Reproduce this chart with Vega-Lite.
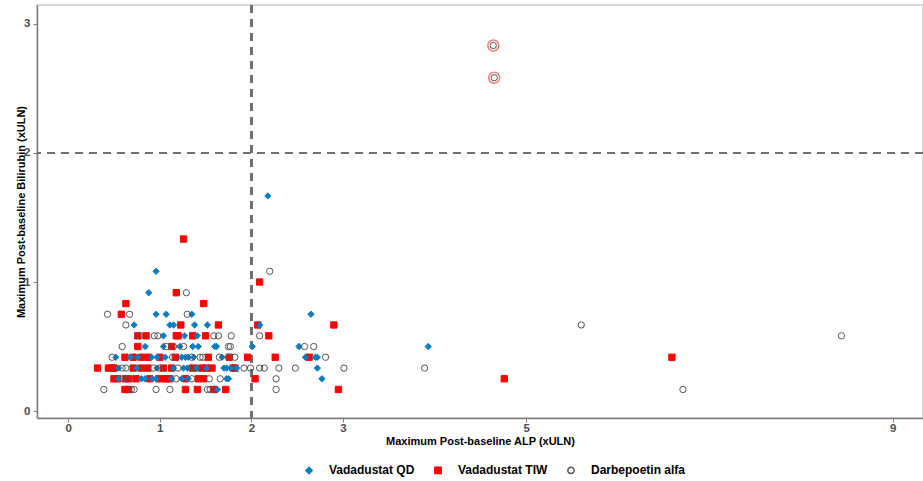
{
  "$schema": "https://vega.github.io/schema/vega-lite/v6.json",
  "autosize": {"type": "none"},
  "padding": {"left": 37, "top": 5, "right": 0, "bottom": 63},
  "width": 886,
  "height": 413,
  "background": "white",
  "config": {
    "font": "Liberation Sans",
    "view": {"stroke": "#cccccc", "strokeWidth": 1.5},
    "axis": {
      "gridColor": "#ebebeb", "gridWidth": 1,
      "domainColor": "#7f7f7f", "domainWidth": 1.5,
      "tickColor": "#7f7f7f", "tickSize": 4,
      "labelFont": "Liberation Sans", "labelFontSize": 11.5, "labelFontWeight": "bold", "labelColor": "#4d4d4d",
      "titleFont": "Liberation Sans", "titleFontSize": 11, "titleFontWeight": "bold", "titleColor": "#000000"
    },
    "legend": {
      "labelFont": "Liberation Sans", "labelFontSize": 12, "labelFontWeight": "bold", "labelColor": "#000000"
    }
  },
  "datasets": {
    "pts": [
      {"alp":0.62,"bili":0.167,"arm":"Vadadustat TIW"},{"alp":0.66,"bili":0.167,"arm":"Vadadustat TIW"},{"alp":1.28,"bili":0.167,"arm":"Vadadustat TIW"},{"alp":1.41,"bili":0.167,"arm":"Vadadustat TIW"},{"alp":1.59,"bili":0.167,"arm":"Vadadustat TIW"},{"alp":1.72,"bili":0.167,"arm":"Vadadustat TIW"},{"alp":2.95,"bili":0.167,"arm":"Vadadustat TIW"},
      {"alp":0.50,"bili":0.25,"arm":"Vadadustat TIW"},{"alp":0.54,"bili":0.25,"arm":"Vadadustat TIW"},{"alp":0.63,"bili":0.25,"arm":"Vadadustat TIW"},{"alp":0.66,"bili":0.25,"arm":"Vadadustat TIW"},{"alp":0.74,"bili":0.25,"arm":"Vadadustat TIW"},{"alp":0.89,"bili":0.25,"arm":"Vadadustat TIW"},{"alp":0.99,"bili":0.25,"arm":"Vadadustat TIW"},{"alp":1.05,"bili":0.25,"arm":"Vadadustat TIW"},{"alp":1.08,"bili":0.25,"arm":"Vadadustat TIW"},{"alp":1.11,"bili":0.25,"arm":"Vadadustat TIW"},{"alp":1.28,"bili":0.25,"arm":"Vadadustat TIW"},{"alp":1.42,"bili":0.25,"arm":"Vadadustat TIW"},{"alp":1.48,"bili":0.25,"arm":"Vadadustat TIW"},{"alp":2.04,"bili":0.25,"arm":"Vadadustat TIW"},{"alp":4.76,"bili":0.25,"arm":"Vadadustat TIW"},
      {"alp":0.32,"bili":0.333,"arm":"Vadadustat TIW"},{"alp":0.44,"bili":0.333,"arm":"Vadadustat TIW"},{"alp":0.48,"bili":0.333,"arm":"Vadadustat TIW"},{"alp":0.50,"bili":0.333,"arm":"Vadadustat TIW"},{"alp":0.71,"bili":0.333,"arm":"Vadadustat TIW"},{"alp":0.80,"bili":0.333,"arm":"Vadadustat TIW"},{"alp":0.87,"bili":0.333,"arm":"Vadadustat TIW"},{"alp":1.04,"bili":0.333,"arm":"Vadadustat TIW"},{"alp":1.13,"bili":0.333,"arm":"Vadadustat TIW"},{"alp":1.36,"bili":0.333,"arm":"Vadadustat TIW"},{"alp":1.46,"bili":0.333,"arm":"Vadadustat TIW"},{"alp":1.51,"bili":0.333,"arm":"Vadadustat TIW"},{"alp":1.57,"bili":0.333,"arm":"Vadadustat TIW"},{"alp":1.80,"bili":0.333,"arm":"Vadadustat TIW"},{"alp":1.82,"bili":0.333,"arm":"Vadadustat TIW"},
      {"alp":0.62,"bili":0.417,"arm":"Vadadustat TIW"},{"alp":0.71,"bili":0.417,"arm":"Vadadustat TIW"},{"alp":0.80,"bili":0.417,"arm":"Vadadustat TIW"},{"alp":0.87,"bili":0.417,"arm":"Vadadustat TIW"},{"alp":1.00,"bili":0.417,"arm":"Vadadustat TIW"},{"alp":1.17,"bili":0.417,"arm":"Vadadustat TIW"},{"alp":1.53,"bili":0.417,"arm":"Vadadustat TIW"},{"alp":1.76,"bili":0.417,"arm":"Vadadustat TIW"},{"alp":1.96,"bili":0.417,"arm":"Vadadustat TIW"},{"alp":2.26,"bili":0.417,"arm":"Vadadustat TIW"},{"alp":2.63,"bili":0.417,"arm":"Vadadustat TIW"},{"alp":6.59,"bili":0.417,"arm":"Vadadustat TIW"},
      {"alp":0.76,"bili":0.5,"arm":"Vadadustat TIW"},{"alp":1.13,"bili":0.5,"arm":"Vadadustat TIW"},
      {"alp":0.76,"bili":0.583,"arm":"Vadadustat TIW"},{"alp":0.85,"bili":0.583,"arm":"Vadadustat TIW"},{"alp":1.18,"bili":0.583,"arm":"Vadadustat TIW"},{"alp":1.20,"bili":0.583,"arm":"Vadadustat TIW"},{"alp":1.36,"bili":0.583,"arm":"Vadadustat TIW"},{"alp":1.50,"bili":0.583,"arm":"Vadadustat TIW"},{"alp":2.19,"bili":0.583,"arm":"Vadadustat TIW"},
      {"alp":1.23,"bili":0.667,"arm":"Vadadustat TIW"},{"alp":1.64,"bili":0.667,"arm":"Vadadustat TIW"},{"alp":2.07,"bili":0.667,"arm":"Vadadustat TIW"},{"alp":2.90,"bili":0.667,"arm":"Vadadustat TIW"},
      {"alp":0.58,"bili":0.75,"arm":"Vadadustat TIW"},
      {"alp":0.63,"bili":0.833,"arm":"Vadadustat TIW"},{"alp":1.48,"bili":0.833,"arm":"Vadadustat TIW"},
      {"alp":1.18,"bili":0.917,"arm":"Vadadustat TIW"},
      {"alp":2.09,"bili":1.0,"arm":"Vadadustat TIW"},
      {"alp":1.26,"bili":1.333,"arm":"Vadadustat TIW"},

      {"alp":1.63,"bili":0.167,"arm":"Vadadustat QD"},
      {"alp":0.55,"bili":0.25,"arm":"Vadadustat QD"},{"alp":0.80,"bili":0.25,"arm":"Vadadustat QD"},{"alp":0.84,"bili":0.25,"arm":"Vadadustat QD"},{"alp":0.92,"bili":0.25,"arm":"Vadadustat QD"},{"alp":0.96,"bili":0.25,"arm":"Vadadustat QD"},{"alp":1.13,"bili":0.25,"arm":"Vadadustat QD"},{"alp":1.24,"bili":0.25,"arm":"Vadadustat QD"},{"alp":1.31,"bili":0.25,"arm":"Vadadustat QD"},{"alp":1.73,"bili":0.25,"arm":"Vadadustat QD"},{"alp":1.75,"bili":0.25,"arm":"Vadadustat QD"},{"alp":2.77,"bili":0.25,"arm":"Vadadustat QD"},
      {"alp":0.55,"bili":0.333,"arm":"Vadadustat QD"},{"alp":0.75,"bili":0.333,"arm":"Vadadustat QD"},{"alp":0.97,"bili":0.333,"arm":"Vadadustat QD"},{"alp":1.15,"bili":0.333,"arm":"Vadadustat QD"},{"alp":1.26,"bili":0.333,"arm":"Vadadustat QD"},{"alp":1.30,"bili":0.333,"arm":"Vadadustat QD"},{"alp":1.41,"bili":0.333,"arm":"Vadadustat QD"},{"alp":1.51,"bili":0.333,"arm":"Vadadustat QD"},{"alp":1.70,"bili":0.333,"arm":"Vadadustat QD"},{"alp":1.73,"bili":0.333,"arm":"Vadadustat QD"},{"alp":1.78,"bili":0.333,"arm":"Vadadustat QD"},{"alp":1.84,"bili":0.333,"arm":"Vadadustat QD"},{"alp":2.72,"bili":0.333,"arm":"Vadadustat QD"},
      {"alp":0.52,"bili":0.417,"arm":"Vadadustat QD"},{"alp":0.68,"bili":0.417,"arm":"Vadadustat QD"},{"alp":0.76,"bili":0.417,"arm":"Vadadustat QD"},{"alp":0.91,"bili":0.417,"arm":"Vadadustat QD"},{"alp":0.97,"bili":0.417,"arm":"Vadadustat QD"},{"alp":1.06,"bili":0.417,"arm":"Vadadustat QD"},{"alp":1.24,"bili":0.417,"arm":"Vadadustat QD"},{"alp":1.28,"bili":0.417,"arm":"Vadadustat QD"},{"alp":1.31,"bili":0.417,"arm":"Vadadustat QD"},{"alp":1.37,"bili":0.417,"arm":"Vadadustat QD"},{"alp":1.68,"bili":0.417,"arm":"Vadadustat QD"},{"alp":2.59,"bili":0.417,"arm":"Vadadustat QD"},{"alp":2.70,"bili":0.417,"arm":"Vadadustat QD"},{"alp":2.72,"bili":0.417,"arm":"Vadadustat QD"},
      {"alp":0.84,"bili":0.5,"arm":"Vadadustat QD"},{"alp":1.04,"bili":0.5,"arm":"Vadadustat QD"},{"alp":1.22,"bili":0.5,"arm":"Vadadustat QD"},{"alp":1.36,"bili":0.5,"arm":"Vadadustat QD"},{"alp":1.42,"bili":0.5,"arm":"Vadadustat QD"},{"alp":1.60,"bili":0.5,"arm":"Vadadustat QD"},{"alp":1.62,"bili":0.5,"arm":"Vadadustat QD"},{"alp":2.01,"bili":0.5,"arm":"Vadadustat QD"},{"alp":2.52,"bili":0.5,"arm":"Vadadustat QD"},{"alp":3.93,"bili":0.5,"arm":"Vadadustat QD"},
      {"alp":1.04,"bili":0.583,"arm":"Vadadustat QD"},{"alp":1.27,"bili":0.583,"arm":"Vadadustat QD"},{"alp":1.41,"bili":0.583,"arm":"Vadadustat QD"},
      {"alp":0.72,"bili":0.667,"arm":"Vadadustat QD"},{"alp":1.11,"bili":0.667,"arm":"Vadadustat QD"},{"alp":1.15,"bili":0.667,"arm":"Vadadustat QD"},{"alp":1.38,"bili":0.667,"arm":"Vadadustat QD"},{"alp":1.52,"bili":0.667,"arm":"Vadadustat QD"},{"alp":2.09,"bili":0.667,"arm":"Vadadustat QD"},
      {"alp":0.96,"bili":0.75,"arm":"Vadadustat QD"},{"alp":1.07,"bili":0.75,"arm":"Vadadustat QD"},{"alp":1.35,"bili":0.75,"arm":"Vadadustat QD"},{"alp":2.65,"bili":0.75,"arm":"Vadadustat QD"},
      {"alp":0.88,"bili":0.917,"arm":"Vadadustat QD"},
      {"alp":0.96,"bili":1.083,"arm":"Vadadustat QD"},
      {"alp":2.18,"bili":1.667,"arm":"Vadadustat QD"},

      {"alp":0.39,"bili":0.167,"arm":"Darbepoetin alfa"},{"alp":0.69,"bili":0.167,"arm":"Darbepoetin alfa"},{"alp":0.72,"bili":0.167,"arm":"Darbepoetin alfa"},{"alp":0.96,"bili":0.167,"arm":"Darbepoetin alfa"},{"alp":1.11,"bili":0.167,"arm":"Darbepoetin alfa"},{"alp":1.52,"bili":0.167,"arm":"Darbepoetin alfa"},{"alp":1.55,"bili":0.167,"arm":"Darbepoetin alfa"},{"alp":2.27,"bili":0.167,"arm":"Darbepoetin alfa"},{"alp":6.71,"bili":0.167,"arm":"Darbepoetin alfa"},
      {"alp":0.60,"bili":0.25,"arm":"Darbepoetin alfa"},{"alp":0.64,"bili":0.25,"arm":"Darbepoetin alfa"},{"alp":1.18,"bili":0.25,"arm":"Darbepoetin alfa"},{"alp":1.35,"bili":0.25,"arm":"Darbepoetin alfa"},{"alp":1.54,"bili":0.25,"arm":"Darbepoetin alfa"},{"alp":1.66,"bili":0.25,"arm":"Darbepoetin alfa"},{"alp":2.27,"bili":0.25,"arm":"Darbepoetin alfa"},
      {"alp":0.59,"bili":0.333,"arm":"Darbepoetin alfa"},{"alp":0.63,"bili":0.333,"arm":"Darbepoetin alfa"},{"alp":0.93,"bili":0.333,"arm":"Darbepoetin alfa"},{"alp":1.00,"bili":0.333,"arm":"Darbepoetin alfa"},{"alp":1.20,"bili":0.333,"arm":"Darbepoetin alfa"},{"alp":1.34,"bili":0.333,"arm":"Darbepoetin alfa"},{"alp":1.40,"bili":0.333,"arm":"Darbepoetin alfa"},{"alp":1.92,"bili":0.333,"arm":"Darbepoetin alfa"},{"alp":1.99,"bili":0.333,"arm":"Darbepoetin alfa"},{"alp":2.09,"bili":0.333,"arm":"Darbepoetin alfa"},{"alp":2.14,"bili":0.333,"arm":"Darbepoetin alfa"},{"alp":2.30,"bili":0.333,"arm":"Darbepoetin alfa"},{"alp":2.48,"bili":0.333,"arm":"Darbepoetin alfa"},{"alp":3.01,"bili":0.333,"arm":"Darbepoetin alfa"},{"alp":3.89,"bili":0.333,"arm":"Darbepoetin alfa"},
      {"alp":0.48,"bili":0.417,"arm":"Darbepoetin alfa"},{"alp":1.14,"bili":0.417,"arm":"Darbepoetin alfa"},{"alp":1.35,"bili":0.417,"arm":"Darbepoetin alfa"},{"alp":1.44,"bili":0.417,"arm":"Darbepoetin alfa"},{"alp":1.47,"bili":0.417,"arm":"Darbepoetin alfa"},{"alp":1.65,"bili":0.417,"arm":"Darbepoetin alfa"},{"alp":1.75,"bili":0.417,"arm":"Darbepoetin alfa"},{"alp":1.82,"bili":0.417,"arm":"Darbepoetin alfa"},{"alp":2.81,"bili":0.417,"arm":"Darbepoetin alfa"},
      {"alp":0.59,"bili":0.5,"arm":"Darbepoetin alfa"},{"alp":1.07,"bili":0.5,"arm":"Darbepoetin alfa"},{"alp":1.15,"bili":0.5,"arm":"Darbepoetin alfa"},{"alp":1.26,"bili":0.5,"arm":"Darbepoetin alfa"},{"alp":1.75,"bili":0.5,"arm":"Darbepoetin alfa"},{"alp":1.77,"bili":0.5,"arm":"Darbepoetin alfa"},{"alp":2.58,"bili":0.5,"arm":"Darbepoetin alfa"},{"alp":2.68,"bili":0.5,"arm":"Darbepoetin alfa"},
      {"alp":0.78,"bili":0.583,"arm":"Darbepoetin alfa"},{"alp":0.94,"bili":0.583,"arm":"Darbepoetin alfa"},{"alp":0.98,"bili":0.583,"arm":"Darbepoetin alfa"},{"alp":1.59,"bili":0.583,"arm":"Darbepoetin alfa"},{"alp":1.64,"bili":0.583,"arm":"Darbepoetin alfa"},{"alp":1.78,"bili":0.583,"arm":"Darbepoetin alfa"},{"alp":2.09,"bili":0.583,"arm":"Darbepoetin alfa"},{"alp":8.44,"bili":0.583,"arm":"Darbepoetin alfa"},
      {"alp":0.63,"bili":0.667,"arm":"Darbepoetin alfa"},{"alp":5.60,"bili":0.667,"arm":"Darbepoetin alfa"},
      {"alp":0.43,"bili":0.75,"arm":"Darbepoetin alfa"},{"alp":0.67,"bili":0.75,"arm":"Darbepoetin alfa"},{"alp":1.30,"bili":0.75,"arm":"Darbepoetin alfa"},
      {"alp":1.29,"bili":0.917,"arm":"Darbepoetin alfa"},
      {"alp":2.20,"bili":1.083,"arm":"Darbepoetin alfa"},
      {"alp":4.65,"bili":2.583,"arm":"Darbepoetin alfa","hl":1},
      {"alp":4.64,"bili":2.833,"arm":"Darbepoetin alfa","hl":1}
    ]
  },
  "data": {"name": "pts"},
  "layer": [
    {
      "mark": {"type": "rule", "color": "#707070", "strokeWidth": 2, "strokeDash": [8, 6]},
      "encoding": {"x": {"datum": 2, "type": "quantitative"}}
    },
    {
      "mark": {"type": "rule", "color": "#707070", "strokeWidth": 2, "strokeDash": [8, 6]},
      "encoding": {"y": {"datum": 2, "type": "quantitative"}}
    },
    {
      "mark": {"type": "point", "strokeWidth": 1, "opacity": 1, "size": 40},
      "encoding": {
        "x": {
          "field": "alp", "type": "quantitative",
          "scale": {"domain": [-0.34, 9.33], "nice": false, "zero": false},
          "axis": {"values": [0, 1, 2, 3, 5, 9], "format": "d", "title": "Maximum Post-baseline ALP (xULN)", "titlePadding": 2, "labelPadding": 0}
        },
        "y": {
          "field": "bili", "type": "quantitative",
          "scale": {"domain": [-0.054, 3.147], "nice": false, "zero": false},
          "axis": {"values": [0, 1, 2, 3], "format": "d", "title": "Maximum Post-baseline Bilirubin (xULN)", "titleX": -11, "titleBaseline": "bottom", "labelPadding": 3}
        },
        "shape": {
          "field": "arm", "type": "nominal",
          "scale": {"domain": ["Vadadustat QD", "Vadadustat TIW", "Darbepoetin alfa"], "range": ["diamond", "square", "circle"]},
          "legend": {"title": null, "orient": "none", "direction": "horizontal", "legendX": 266, "legendY": 459, "labelOffset": 14, "columnPadding": 16, "symbolSize": 40}
        },
        "fill": {
          "field": "arm", "type": "nominal",
          "scale": {"domain": ["Vadadustat QD", "Vadadustat TIW", "Darbepoetin alfa"], "range": ["#0a7dc0", "#ff0000", "transparent"]},
          "legend": {"title": null, "orient": "none", "direction": "horizontal", "legendX": 266, "legendY": 459, "labelOffset": 14, "columnPadding": 16, "symbolSize": 40}
        },
        "stroke": {
          "field": "arm", "type": "nominal",
          "scale": {"domain": ["Vadadustat QD", "Vadadustat TIW", "Darbepoetin alfa"], "range": ["#0a7dc0", "#ff0000", "#555555"]},
          "legend": {"title": null, "orient": "none", "direction": "horizontal", "legendX": 266, "legendY": 459, "labelOffset": 14, "columnPadding": 16, "symbolSize": 40}
        }
      }
    },
    {
      "transform": [{"filter": "datum.hl === 1"}],
      "mark": {"type": "point", "shape": "circle", "filled": false, "color": "#f04848", "strokeWidth": 1.5, "size": 120},
      "encoding": {
        "x": {"field": "alp", "type": "quantitative"},
        "y": {"field": "bili", "type": "quantitative"}
      }
    }
  ]
}
